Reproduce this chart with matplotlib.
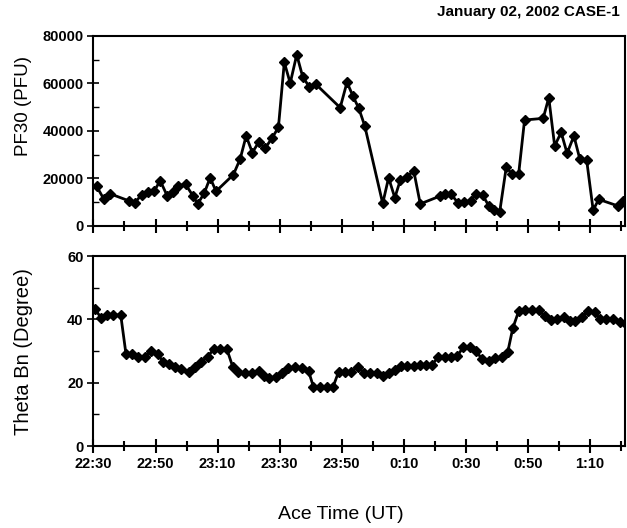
import matplotlib
matplotlib.use('Agg')
from matplotlib import pyplot as plt
from matplotlib.ticker import MultipleLocator

plt.rcParams['font.family'] = ['Liberation Sans', 'DejaVu Sans']

# times are minutes after 22:30 UT
pf_minutes = [1, 3.4, 5.5, 11.6, 13.4, 15.5, 17.7, 19.6, 21.5, 23.8, 25.5, 27.4, 29.7,
              32.0, 33.6, 35.7, 37.6, 39.5, 45.1, 47.3, 49.2, 51.2, 53.3, 55.3, 57.5,
              59.6, 61.5, 63.4, 65.5, 67.4, 69.5, 71.7, 79.5, 81.7, 83.6, 85.5, 87.4,
              93.2, 95.1, 97.1, 98.9, 101.0, 103.2, 105.3, 111.5, 113.4, 115.3, 117.4,
              119.3, 121.5, 123.4, 125.4, 127.4, 129.2, 130.9, 133.0, 134.9, 137.0,
              138.9, 144.9, 146.7, 148.6, 150.7, 152.6, 154.8, 156.7, 158.9, 161.0,
              162.8, 169.1, 170.7]
pf30 = [16800, 11200, 13500, 10500, 9800, 13200, 14200, 14700, 19100, 12600, 14200,
        17000, 17500, 12800, 9300, 13800, 20300, 14600, 21600, 28300, 37900, 30900,
        35400, 32700, 36900, 41500, 68900, 60100, 72100, 62900, 58600, 59600, 49800,
        60500, 54700, 49500, 42200, 9500, 20300, 11900, 19400, 20800, 23200, 9300,
        12500, 13500, 13300, 9800, 10000, 10700, 13500, 13000, 8400, 6700, 6000,
        24700, 21900, 21900, 44600, 45300, 54000, 33700, 39400, 30600, 37900, 28200,
        27800, 6700, 11200, 8400, 10700]

theta_minutes = [0.5, 2.6, 4.5, 6.4, 8.8, 10.5, 12.5, 14.5, 16.6, 18.5, 20.7, 22.5,
                 24.5, 26.3, 28.2, 30.8, 32.7, 34.7, 36.8, 38.7, 40.8, 43.0, 44.9,
                 46.7, 48.9, 51.0, 53.2, 55.0, 56.7, 58.9, 60.9, 62.8, 65.0, 67.2,
                 69.3, 70.9, 73.1, 75.2, 77.2, 79.0, 81.1, 83.1, 85.1, 87.3, 89.2,
                 91.4, 93.3, 95.1, 97.3, 99.1, 101.0, 103.2, 105.1, 107.2, 109.1,
                 110.9, 113.4, 115.3, 117.2, 119.1, 121.2, 123.3, 125.2, 127.4, 129.5,
                 131.7, 133.5, 135.1, 137.0, 139.2, 141.4, 143.5, 145.4, 147.5, 149.4,
                 151.5, 153.5, 155.3, 157.3, 159.4, 161.5, 163.2, 165.2, 167.4, 169.5,
                 171.5]
theta_bn = [43.3, 40.3, 41.4, 41.4, 41.4, 29.0, 29.0, 28.2, 28.2, 30.1, 29.0, 26.6,
            25.9, 25.0, 24.3, 23.3, 24.9, 26.6, 28.2, 30.6, 30.6, 30.6, 25.0, 23.5,
            23.1, 23.1, 23.8, 22.1, 21.4, 21.9, 23.0, 24.7, 25.0, 24.7, 23.7, 18.7,
            18.7, 18.7, 18.7, 23.5, 23.5, 23.5, 25.0, 23.1, 23.1, 23.1, 22.1, 23.0,
            24.0, 25.3, 25.3, 25.3, 25.6, 25.6, 25.6, 28.0, 28.0, 28.0, 28.4, 31.2,
            31.2, 30.1, 27.4, 26.8, 27.7, 28.2, 29.8, 37.2, 42.6, 42.9, 42.9, 42.9,
            41.1, 39.8, 40.1, 40.8, 39.6, 39.6, 40.8, 42.6, 42.4, 40.0, 40.0, 40.0,
            39.3, 38.5]

time_ticks = [0, 20, 40, 60, 80, 100, 120, 140, 160]
time_labels = ['22:30', '22:50', '23:10', '23:30', '23:50', '0:10', '0:30', '0:50', '1:10']


def style_axis(ax, ymax, ystep, show_labels):
    ax.set_xlim(0, 171.3)
    ax.set_ylim(0, ymax)
    ax.set_xticks(time_ticks)
    ax.set_xticklabels(time_labels if show_labels else [])
    ax.xaxis.set_minor_locator(MultipleLocator(10))
    ax.yaxis.set_major_locator(MultipleLocator(ystep))
    ax.yaxis.set_minor_locator(MultipleLocator(ystep / 2))
    ax.tick_params(axis='x', which='major', direction='inout', length=10, width=1.5)
    ax.tick_params(axis='x', which='minor', direction='inout', length=7, width=1.5)
    ax.tick_params(axis='y', which='major', direction='inout', length=8, width=1.2)
    ax.tick_params(axis='y', which='minor', direction='in', length=4, width=1)
    ax.tick_params(labelsize=10.5, pad=3)
    for label in ax.get_xticklabels() + ax.get_yticklabels():
        label.set_fontweight('bold')
    for spine in ax.spines.values():
        spine.set_linewidth(1.5)


def main():
    fig = plt.figure(figsize=(6.27, 5.28), dpi=100)
    ax1 = fig.add_axes([0.149, 0.572, 0.848, 0.360])
    ax2 = fig.add_axes([0.149, 0.155, 0.848, 0.360])

    ax1.plot(pf_minutes, pf30, color='black', lw=2, marker='D', ms=5.5)
    ax2.plot(theta_minutes, theta_bn, color='black', lw=2, marker='D', ms=5.5)

    style_axis(ax1, 80000, 20000, False)
    style_axis(ax2, 60, 20, True)

    fig.text(0.037, 0.80, 'PF30 (PFU)', rotation=90, ha='center', va='center', fontsize=13.5)
    fig.text(0.037, 0.335, 'Theta Bn (Degree)', rotation=90, ha='center', va='center', fontsize=14.5)
    fig.text(0.544, 0.025, 'Ace Time (UT)', ha='center', va='center', fontsize=14)
    fig.text(0.989, 0.977, 'January 02, 2002 CASE-1', ha='right', va='center',
             fontsize=11, fontweight='bold')

    fig.savefig('out.png', dpi=100)


if __name__ == '__main__':
    main()
